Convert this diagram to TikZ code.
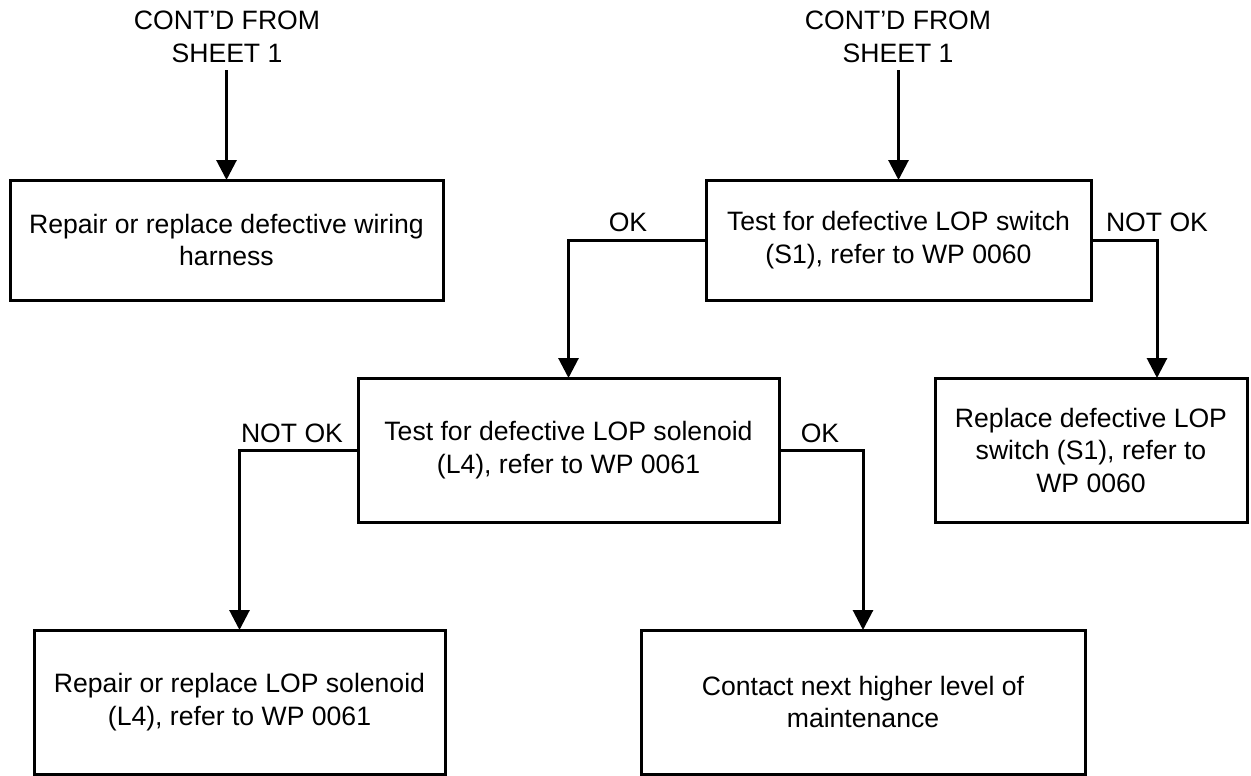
\documentclass[tikz,border=0pt]{standalone}
\usepackage{fontspec}
\setmainfont{Liberation Sans}
\usetikzlibrary{arrows.meta}
\begin{document}
\begin{tikzpicture}[x=1pt,y=-1pt,
  every node/.style={font=\fontsize{26.6}{32.5}\selectfont, inner sep=0pt, outer sep=0pt, align=center},
  box/.style={draw, line width=3pt, rectangle},
  conn/.style={line width=3pt, -{Triangle[length=20pt,width=20pt]}},
  lbl/.style={anchor=base}]
\useasboundingbox (0,0) rectangle (1251,776);

% top texts
\node[anchor=north] (t1) at (227,11) {CONT’D FROM\\SHEET 1};
\node[anchor=north] (t2) at (898,11) {CONT’D FROM\\SHEET 1};

% boxes
\node[box, minimum width=433pt, minimum height=120pt] (b1) at (226.5,240) {Repair or replace defective wiring\\harness};
\node[box, minimum width=385pt, minimum height=120pt] (b2) at (898.5,240) {Test for defective LOP switch\\(S1), refer to WP 0060};
\node[box, minimum width=421pt, minimum height=144pt] (b3) at (568.5,450) {Test for defective LOP solenoid\\(L4), refer to WP 0061};
\node[box, minimum width=312pt, minimum height=144pt] (b4) at (1091,450) {Replace defective LOP\\switch (S1), refer to\\WP 0060};
\node[box, minimum width=411pt, minimum height=144pt] (b5) at (239.5,702) {Repair or replace LOP solenoid\\(L4), refer to WP 0061};
\node[box, minimum width=444pt, minimum height=144pt] (b6) at (863,702) {Contact next higher level of\\maintenance};

% connectors
\draw[conn, shorten <=8pt] (b1.north |- t1.south) -- (b1.north);
\draw[conn, shorten <=8pt] (b2.north |- t2.south) -- (b2.north);
\draw[conn] (b2.west) -| (b3.north);
\coordinate (n1) at (1157,240);
\draw[conn] (b2.east) -- (n1) -- (n1 |- b4.north);
\draw[conn] (b3.west) -| (b5.north);
\draw[conn] (b3.east) -| (b6.north);

% labels
\node[lbl] (l1) at (628,231) {OK};
\node[lbl] (l2) at (1157,231) {NOT OK};
\node[lbl] (l3) at (292,442) {NOT OK};
\node[lbl] (l4) at (820,442) {OK};
\end{tikzpicture}
\end{document}
